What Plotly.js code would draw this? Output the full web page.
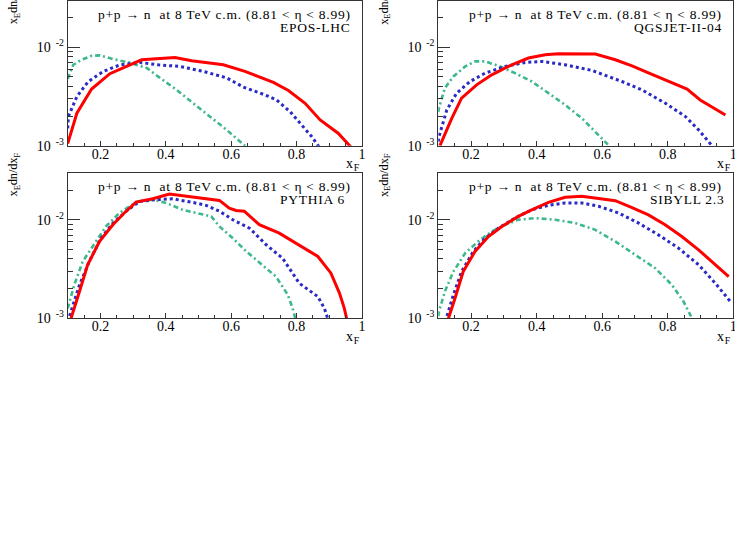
<!DOCTYPE html>
<html>
<head>
<meta charset="utf-8">
<script src="https://cdn.plot.ly/plotly-3.0.1.min.js"></script>
<style>
html,body{margin:0;padding:0;background:#fff;}
#chart{width:735px;height:545px;}
.annotation-text{letter-spacing:0.75px;}
</style>
</head>
<body>
<div id="chart"></div>
<script>
// ---- data ----
var models = ["EPOS-LHC", "QGSJET-II-04", "PYTHIA 6", "SIBYLL 2.3"];
var header = "p+p \u2192 n  at 8 TeV c.m. (8.81 < \u03b7 < 8.99)";
var xTickVals = [0.2, 0.4, 0.6, 0.8, 1];
var xTickText = ["0.2", "0.4", "0.6", "0.8", "1"];
var yTickVals = [0.001, 0.01];
var yTickText = ["10<sup>\u00a0\u00a0-3</sup>", "10<sup>\u00a0\u00a0-2</sup>"];
var yMinorVals = [0.002,0.003,0.004,0.005,0.006,0.007,0.008,0.009,0.02,0.03];

// EPOS-LHC
var eposRedX   = [0.100,0.128,0.173,0.229,0.280,0.326,0.428,0.479,0.576,0.642,0.729,0.775,0.826,0.872,0.927,0.963,0.975];
var eposRedY   = [1.05e-3,2.14e-3,3.77e-3,5.4e-3,6.4e-3,7.48e-3,7.9e-3,7.3e-3,6.65e-3,5.7e-3,4.4e-3,3.64e-3,2.7e-3,1.83e-3,1.34e-3,1.0e-3,0.9e-3];
var eposBlueX  = [0.100,0.102,0.128,0.163,0.209,0.260,0.321,0.377,0.443,0.515,0.586,0.637,0.703,0.739,0.780,0.816,0.846,0.866,0.875];
var eposBlueY  = [1.5e-3,1.98e-3,3.16e-3,4.5e-3,5.7e-3,6.65e-3,7.03e-3,6.65e-3,6.4e-3,5.7e-3,4.9e-3,3.95e-3,3.29e-3,2.92e-3,2.22e-3,1.63e-3,1.24e-3,1.0e-3,0.9e-3];
var eposGreenX = [0.100,0.117,0.143,0.173,0.199,0.239,0.290,0.342,0.382,0.433,0.484,0.535,0.586,0.642,0.655];
var eposGreenY = [4.8e-3,6.65e-3,7.5e-3,8.2e-3,8.3e-3,7.6e-3,7.0e-3,6.17e-3,4.9e-3,3.7e-3,2.7e-3,1.98e-3,1.45e-3,1.0e-3,0.92e-3];

// QGSJET-II-04
var qgsRedX   = [0.105,0.141,0.171,0.217,0.263,0.324,0.375,0.426,0.467,0.579,0.640,0.691,0.741,0.803,0.859,0.899,0.976];
var qgsRedY   = [1.0e-3,1.9e-3,3.05e-3,4.16e-3,5.26e-3,6.65e-3,7.8e-3,8.43e-3,8.6e-3,8.57e-3,7.48e-3,6.5e-3,5.5e-3,4.5e-3,3.77e-3,2.92e-3,2.05e-3];
var qgsBlueX  = [0.100,0.102,0.126,0.156,0.197,0.243,0.304,0.365,0.416,0.487,0.569,0.660,0.721,0.793,0.854,0.894,0.935,0.945];
var qgsBlueY  = [1.1e-3,1.24e-3,2.31e-3,3.43e-3,4.5e-3,5.48e-3,6.4e-3,7.03e-3,7.2e-3,6.65e-3,5.83e-3,4.5e-3,3.7e-3,2.7e-3,1.98e-3,1.45e-3,1.0e-3,0.92e-3];
var qgsGreenX = [0.100,0.102,0.120,0.146,0.182,0.212,0.243,0.283,0.334,0.385,0.436,0.487,0.538,0.579,0.620,0.630];
var qgsGreenY = [2.2e-3,2.41e-3,3.86e-3,5.06e-3,6.4e-3,7.2e-3,7.2e-3,6.5e-3,5.48e-3,4.5e-3,3.43e-3,2.6e-3,1.9e-3,1.39e-3,1.0e-3,0.93e-3];

// PYTHIA 6
var pyRedX   = [0.106,0.110,0.136,0.161,0.197,0.238,0.273,0.309,0.360,0.411,0.462,0.513,0.564,0.594,0.615,0.640,0.686,0.747,0.808,0.865,0.905,0.931,0.946,0.953,0.956];
var pyRedY   = [0.9e-3,1.0e-3,1.87e-3,3.49e-3,6.0e-3,8.9e-3,1.17e-2,1.51e-2,1.63e-2,1.82e-2,1.73e-2,1.63e-2,1.57e-2,1.31e-2,1.24e-2,1.22e-2,8.9e-3,7.3e-3,5.57e-3,4.24e-3,2.87e-3,1.8e-3,1.26e-3,1.0e-3,0.9e-3];
var pyBlueX  = [0.102,0.105,0.136,0.166,0.202,0.238,0.279,0.319,0.370,0.421,0.482,0.523,0.564,0.605,0.656,0.707,0.757,0.808,0.865,0.885,0.895,0.900];
var pyBlueY  = [0.92e-3,1.04e-3,2.18e-3,3.77e-3,6.5e-3,9.2e-3,1.22e-2,1.53e-2,1.6e-2,1.63e-2,1.5e-2,1.4e-2,1.22e-2,1.0e-2,8.2e-3,5.57e-3,4.07e-3,2.27e-3,1.66e-3,1.26e-3,1.0e-3,0.92e-3];
var pyGreenX = [0.100,0.120,0.146,0.182,0.217,0.258,0.309,0.360,0.401,0.452,0.503,0.539,0.564,0.605,0.646,0.696,0.737,0.773,0.788,0.796,0.800];
var pyGreenY = [1.26e-3,2.18e-3,3.77e-3,5.8e-3,8.55e-3,1.17e-2,1.51e-2,1.6e-2,1.48e-2,1.26e-2,1.14e-2,1.08e-2,8.55e-3,6.5e-3,4.77e-3,3.49e-3,2.65e-3,1.73e-3,1.26e-3,1.0e-3,0.92e-3];

// SIBYLL 2.3
var sibRedX   = [0.128,0.131,0.151,0.176,0.212,0.253,0.294,0.344,0.385,0.436,0.487,0.538,0.589,0.640,0.691,0.741,0.792,0.843,0.894,0.935,0.986];
var sibRedY   = [0.9e-3,1.0e-3,1.6e-3,2.98e-3,4.77e-3,6.76e-3,8.55e-3,1.08e-2,1.26e-2,1.5e-2,1.69e-2,1.73e-2,1.64e-2,1.56e-2,1.33e-2,1.12e-2,8.9e-3,6.76e-3,4.95e-3,3.77e-3,2.65e-3];
var sibBlueX  = [0.123,0.126,0.146,0.171,0.207,0.243,0.283,0.334,0.385,0.436,0.487,0.538,0.589,0.650,0.711,0.772,0.833,0.894,0.945,0.991];
var sibBlueY  = [0.92e-3,1.04e-3,1.73e-3,2.98e-3,4.77e-3,6.5e-3,8.2e-3,1.04e-2,1.26e-2,1.4e-2,1.48e-2,1.48e-2,1.37e-2,1.17e-2,9.25e-3,7.0e-3,5.15e-3,3.49e-3,2.27e-3,1.48e-3];
var sibGreenX = [0.100,0.102,0.120,0.146,0.182,0.222,0.263,0.304,0.344,0.395,0.456,0.518,0.579,0.640,0.701,0.762,0.813,0.848,0.874,0.880];
var sibGreenY = [1.05e-3,1.17e-3,1.87e-3,2.98e-3,4.58e-3,6.03e-3,7.6e-3,8.9e-3,1.0e-2,1.04e-2,1.0e-2,9.25e-3,7.9e-3,6.03e-3,4.4e-3,3.22e-3,2.18e-3,1.48e-3,1.0e-3,0.93e-3];

var panels = [
  {red:[eposRedX,eposRedY], blue:[eposBlueX,eposBlueY], green:[eposGreenX,eposGreenY]},
  {red:[qgsRedX,qgsRedY],   blue:[qgsBlueX,qgsBlueY],   green:[qgsGreenX,qgsGreenY]},
  {red:[pyRedX,pyRedY],     blue:[pyBlueX,pyBlueY],     green:[pyGreenX,pyGreenY]},
  {red:[sibRedX,sibRedY],   blue:[sibBlueX,sibBlueY],   green:[sibGreenX,sibGreenY]}
];

// ---- layout geometry (pixels) ----
var W = 735, H = 545;
var cols = [[67.7, 362.0], [438.3, 733.3]];
var rows = [[0.5, 145.7], [172.7, 318.3]];
var modelLabelX = [278, 631.7, 278, 648]; // left edge of model label in px
var serif = "Liberation Serif";
var frameColor = "#333333";
var redC = "#ff0000", blueC = "#2a2ac4", greenC = "#3cb88a";

var traces = [];
var layout = {
  width: W, height: H,
  margin: {l: 0, r: 0, t: 0, b: 0},
  paper_bgcolor: "#ffffff", plot_bgcolor: "#ffffff",
  font: {family: serif, color: "#000"},
  showlegend: false,
  annotations: []
};

function px2x(p){ return p / W; }
function py2y(p){ return 1 - p / H; }

for (var i = 0; i < 4; i++) {
  var c = cols[i % 2], r = rows[Math.floor(i / 2)];
  var n = i + 1;
  var xa = "x" + (n === 1 ? "" : n), ya = "y" + (n === 1 ? "" : n);
  var xk = "xaxis" + (n === 1 ? "" : n), yk = "yaxis" + (n === 1 ? "" : n);
  var p = panels[i];
  var defs = [
    [p.green, greenC, 2.6, "5px,3px,2px,3px"],
    [p.blue, blueC, 3, "3px,3px"],
    [p.red, redC, 3, "solid"]
  ];
  defs.forEach(function(d){
    traces.push({
      type: "scatter", mode: "lines", x: d[0][0], y: d[0][1],
      xaxis: xa, yaxis: ya,
      line: {color: d[1], width: d[2], dash: d[3]},
      hoverinfo: "skip"
    });
  });
  layout[xk] = {
    domain: [px2x(c[0]), px2x(c[1])], anchor: ya,
    range: [0.1, 1], showgrid: false, zeroline: false,
    showline: true, linecolor: frameColor, linewidth: 1, mirror: true,
    ticks: "inside", ticklen: 5, tickcolor: frameColor, tickwidth: 1,
    tickmode: "array", tickvals: xTickVals, ticktext: xTickText,
    tickfont: {family: serif, size: 14, color: "#000"},
    ticklabelstandoff: -5, ticklabeloverflow: "allow",
    minor: {tickmode: "linear", tick0: 0.1, dtick: 0.05, ticks: "inside", ticklen: 3, tickcolor: frameColor, showgrid: false},
    fixedrange: true
  };
  layout[yk] = {
    domain: [py2y(r[1]), py2y(r[0])], anchor: xa,
    type: "log", range: [-3, Math.log10(0.03)],
    showgrid: false, zeroline: false,
    showline: true, linecolor: frameColor, linewidth: 1, mirror: true,
    ticks: "inside", ticklen: 12, tickcolor: frameColor, tickwidth: 1,
    tickmode: "array", tickvals: yTickVals, ticktext: yTickText,
    tickfont: {family: serif, size: 14, color: "#000"},
    ticklabeloverflow: "allow",
    minor: {tickmode: "array", tickvals: yMinorVals, ticks: "inside", ticklen: 5, tickcolor: frameColor, showgrid: false},
    fixedrange: true
  };
  // header text
  layout.annotations.push({
    xref: "paper", yref: "paper", x: px2x(c[1] - 9), y: py2y(r[0] + 13.5),
    xanchor: "right", yanchor: "middle", showarrow: false,
    text: header, font: {family: serif, size: 13.5, color: "#000"}
  });
  // model label
  layout.annotations.push({
    xref: "paper", yref: "paper", x: px2x(modelLabelX[i]), y: py2y(r[0] + 26.5),
    xanchor: "left", yanchor: "middle", showarrow: false,
    text: models[i], font: {family: serif, size: 13.5, color: "#000"}
  });
  // x title
  layout.annotations.push({
    xref: "paper", yref: "paper", x: px2x(c[1]), y: py2y(r[1] + 19),
    xanchor: "right", yanchor: "middle", showarrow: false,
    text: "x<sub>F</sub>", font: {family: serif, size: 14, color: "#000"}
  });
  // y title
  layout.annotations.push({
    xref: "paper", yref: "paper", x: px2x(c[0] - 54), y: py2y(r[0] - 22),
    xanchor: "center", yanchor: "top", showarrow: false, textangle: -90,
    text: "<span style=\"letter-spacing:-0.2px\">x<sub>E</sub>dn/dx<sub>F</sub></span>",
    font: {family: serif, size: 12.5, color: "#000"}
  });
}

Plotly.newPlot("chart", traces, layout, {displayModeBar: false, staticPlot: true});
</script>
</body>
</html>
